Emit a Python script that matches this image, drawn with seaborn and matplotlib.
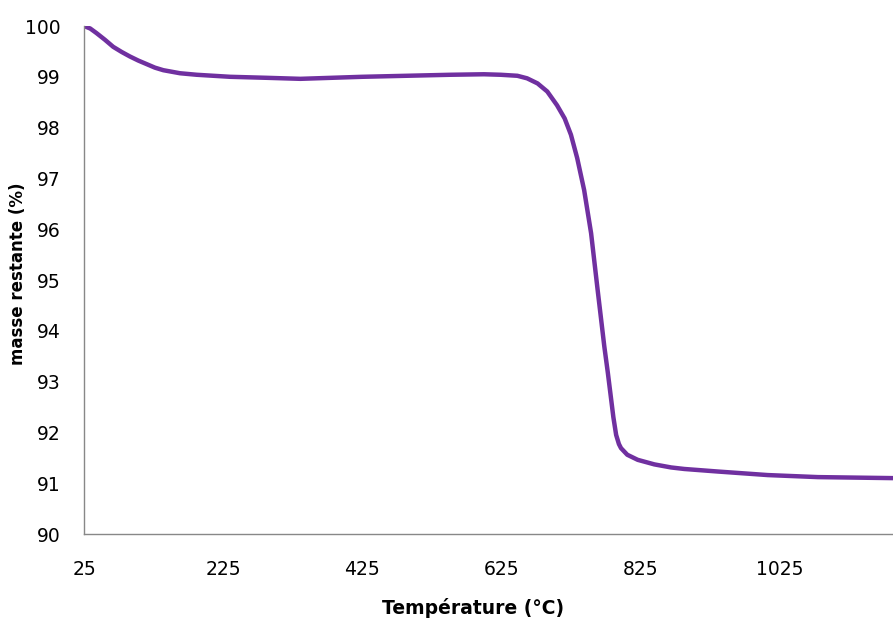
import matplotlib
matplotlib.use("Agg")
import matplotlib.pyplot as plt
import seaborn as sns
import pandas as pd

temperature = [25, 34, 43, 55, 67, 79, 91, 103, 115, 127, 139, 151, 163, 187, 235, 288,
               336, 425, 552, 600, 624, 648, 662, 677, 691, 705, 716, 725, 734, 744, 754,
               763, 773, 778, 782, 786, 790, 794, 797, 806, 821, 845, 869, 888, 936,
               1008, 1080, 1188]
masse = [100.0, 99.95, 99.86, 99.73, 99.59, 99.49, 99.40, 99.32, 99.25, 99.18, 99.13,
         99.10, 99.07, 99.04, 99.00, 98.98, 98.96, 99.00, 99.04, 99.05, 99.04, 99.02,
         98.97, 98.87, 98.71, 98.44, 98.18, 97.86, 97.40, 96.77, 95.92, 94.85, 93.69,
         93.18, 92.74, 92.30, 91.95, 91.77, 91.69, 91.56, 91.46, 91.37, 91.31, 91.28,
         91.23, 91.16, 91.12, 91.10]
x_ticks = [25, 225, 425, 625, 825, 1025]
y_ticks = [90, 91, 92, 93, 94, 95, 96, 97, 98, 99, 100]

sns.set_theme(style="white")
plt.rcParams['font.family'] = ['DejaVu Sans']

df = pd.DataFrame({"Température (°C)": temperature, "masse restante (%)": masse})

fig = plt.figure(figsize=(8.93, 6.2), dpi=100)
ax = fig.add_axes([84 / 893, (620 - 534) / 620, (893 - 84) / 893, (534 - 26) / 620])

sns.lineplot(data=df, x="Température (°C)", y="masse restante (%)", ax=ax,
             color="#7030A0", linewidth=3.2, sort=False, solid_joinstyle="round",
             solid_capstyle="butt")

ax.set_xlim(25, 1188)
ax.set_ylim(90, 100)
ax.set_xticks(x_ticks)
ax.set_xticklabels([str(t) for t in x_ticks])
ax.set_yticks(y_ticks)
ax.set_yticklabels([str(t) for t in y_ticks])

for s in ["top", "right"]:
    ax.spines[s].set_visible(False)
for s in ["left", "bottom"]:
    ax.spines[s].set_color("#888888")
    ax.spines[s].set_linewidth(1.0)

ax.tick_params(axis="both", which="major", direction="out", length=5, width=1,
               color="#888888", labelsize=13.5, labelcolor="black")
ax.tick_params(axis="x", pad=14)
ax.tick_params(axis="y", pad=11.5)

ax.set_xlabel("Température (°C)", fontsize=13.5, fontweight="bold", color="black")
ax.set_ylabel("masse restante (%)", fontsize=12, fontweight="bold", color="black")
ax.xaxis.set_label_coords(0.481, -0.126)
ax.yaxis.set_label_coords(-0.071, 0.513)
ax.grid(False)

fig.savefig("out.png", dpi=100)
